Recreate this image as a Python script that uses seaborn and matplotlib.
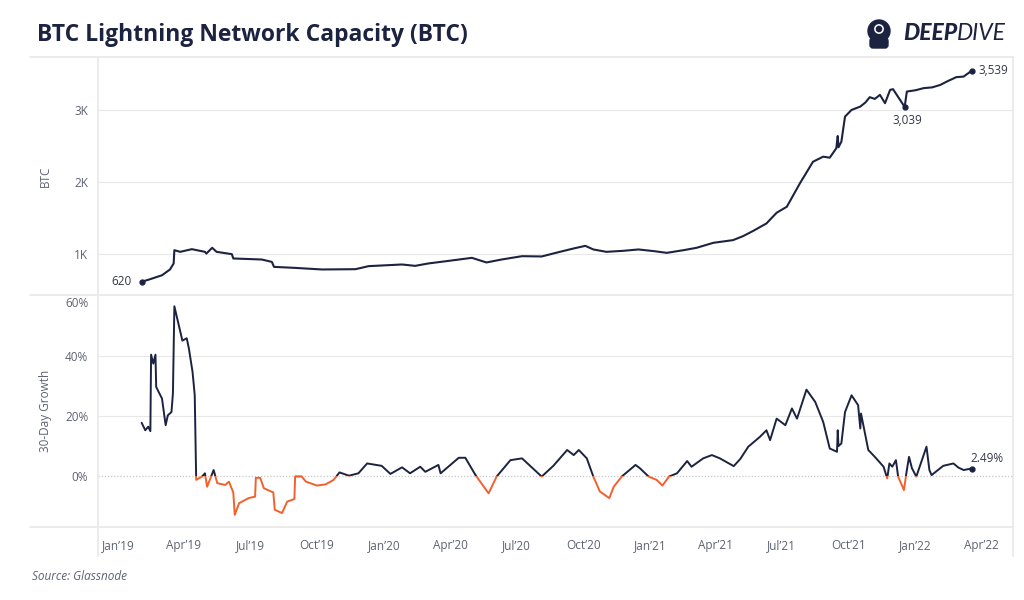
import matplotlib
matplotlib.use("Agg")
import matplotlib.pyplot as plt
import matplotlib.dates as mdates
from matplotlib.patches import Rectangle, Circle, FancyBboxPatch
from matplotlib.lines import Line2D
import pandas as pd
import seaborn as sns

# --- data ------------------------------------------------------------------
cap_dates = [
    "2019-02-02", "2019-02-12", "2019-03-02", "2019-03-13", "2019-03-18", "2019-03-19",
    "2019-03-27", "2019-04-12", "2019-04-30", "2019-05-02", "2019-05-10", "2019-05-16",
    "2019-06-06", "2019-06-08", "2019-07-17", "2019-07-31", "2019-08-03", "2019-09-01",
    "2019-10-08", "2019-11-23", "2019-12-11", "2020-01-26", "2020-02-13", "2020-03-02",
    "2020-03-30", "2020-05-01", "2020-05-21", "2020-06-11", "2020-07-09", "2020-08-05",
    "2020-08-30", "2020-09-18", "2020-10-04", "2020-10-15", "2020-11-02", "2020-11-25",
    "2020-12-16", "2021-01-06", "2021-01-24", "2021-02-16", "2021-03-06", "2021-03-29",
    "2021-04-25", "2021-05-09", "2021-05-23", "2021-06-10", "2021-06-24", "2021-07-08",
    "2021-07-26", "2021-08-13", "2021-08-27", "2021-09-05", "2021-09-14", "2021-09-16",
    "2021-09-17", "2021-09-21", "2021-09-26", "2021-10-05", "2021-10-17", "2021-10-24",
    "2021-10-30", "2021-11-06", "2021-11-13", "2021-11-20", "2021-11-27", "2021-12-01",
    "2021-12-17", "2021-12-20", "2022-01-01", "2022-01-12", "2022-01-24", "2022-02-04",
    "2022-02-15", "2022-02-26", "2022-03-08", "2022-03-19",
]
cap_btc = [
    620, 650, 710, 790, 873, 1057,
    1034, 1071, 1034, 1010, 1090, 1034,
    1002, 942, 928, 895, 826, 812,
    790, 794, 836, 859, 840, 873,
    909, 951, 887, 928, 974, 970,
    1034, 1081, 1117, 1067, 1034, 1048,
    1067, 1044, 1020, 1057, 1090, 1159,
    1196, 1252, 1325, 1427, 1575, 1658,
    1982, 2281, 2351, 2337, 2467, 2637,
    2480, 2559, 2905, 2998, 3044, 3100,
    3174, 3150, 3206, 3091, 3275, 3285,
    3039, 3252, 3270, 3299, 3310, 3344,
    3400, 3451, 3459, 3539,
]

growth_dates = [
    "2019-02-02", "2019-02-07", "2019-02-11", "2019-02-14", "2019-02-15", "2019-02-18",
    "2019-02-21", "2019-02-22", "2019-03-02", "2019-03-07", "2019-03-10", "2019-03-15",
    "2019-03-17", "2019-03-19", "2019-03-30", "2019-04-05", "2019-04-08", "2019-04-13",
    "2019-04-16", "2019-04-18", "2019-04-26", "2019-04-30", "2019-05-03", "2019-05-12",
    "2019-05-17", "2019-05-28", "2019-06-02", "2019-06-08", "2019-06-10", "2019-06-16",
    "2019-06-29", "2019-07-08", "2019-07-09", "2019-07-15", "2019-07-20", "2019-08-02",
    "2019-08-04", "2019-08-14", "2019-08-21", "2019-08-31", "2019-09-01", "2019-09-10",
    "2019-09-16", "2019-10-01", "2019-10-13", "2019-10-24", "2019-11-01", "2019-11-14",
    "2019-11-27", "2019-12-09", "2019-12-29", "2020-01-10", "2020-01-26", "2020-02-06",
    "2020-02-20", "2020-02-27", "2020-03-16", "2020-03-19", "2020-04-13", "2020-04-22",
    "2020-05-06", "2020-05-24", "2020-06-04", "2020-06-23", "2020-07-09", "2020-08-05",
    "2020-08-21", "2020-09-09", "2020-09-18", "2020-09-25", "2020-10-06", "2020-10-15",
    "2020-10-24", "2020-11-06", "2020-11-12", "2020-11-23", "2020-12-12", "2020-12-18",
    "2020-12-30", "2021-01-10", "2021-01-18", "2021-01-27", "2021-02-07", "2021-02-21",
    "2021-02-27", "2021-03-15", "2021-03-27", "2021-04-07", "2021-04-26", "2021-05-05",
    "2021-05-16", "2021-06-01", "2021-06-10", "2021-06-15", "2021-06-24", "2021-07-06",
    "2021-07-15", "2021-07-22", "2021-08-04", "2021-08-16", "2021-08-27", "2021-09-05",
    "2021-09-15", "2021-09-16", "2021-09-17", "2021-09-21", "2021-09-26", "2021-10-05",
    "2021-10-14", "2021-10-17", "2021-10-18", "2021-10-28", "2021-11-06", "2021-11-18",
    "2021-11-23", "2021-11-26", "2021-11-30", "2021-12-05", "2021-12-08", "2021-12-16",
    "2021-12-20", "2021-12-23", "2021-12-27", "2022-01-02", "2022-01-16", "2022-01-20",
    "2022-01-23", "2022-02-08", "2022-02-22", "2022-03-01", "2022-03-08", "2022-03-19",
]
growth_pct = [
    17.8, 15.3, 16.5, 15.0, 40.6, 37.6,
    40.6, 29.8, 25.9, 17.0, 20.3, 21.4,
    27.6, 56.8, 45.3, 46.1, 42.6, 34.8,
    27.0, -1.3, -0.2, 0.9, -3.6, 2.0,
    -2.4, -3.0, -1.9, -5.5, -13.0, -9.1,
    -7.4, -6.9, -0.6, -0.6, -4.1, -5.5,
    -11.3, -12.4, -8.6, -7.7, -0.2, -0.2,
    -1.9, -3.2, -2.8, -1.3, 1.2, 0.1,
    0.9, 4.2, 3.4, 0.7, 2.9, 0.9,
    3.1, 1.4, 3.7, 0.9, 6.1, 6.1,
    0.3, -5.8, -0.2, 5.3, 5.9, -0.2,
    3.4, 8.7, 7.0, 8.7, 5.9, -0.2,
    -5.2, -7.4, -3.6, -0.2, 3.7, 2.6,
    -0.2, -1.3, -3.2, -0.2, 0.9, 5.0,
    3.1, 5.9, 7.0, 5.9, 3.3, 5.7,
    9.8, 13.1, 15.3, 12.0, 19.2, 17.0,
    22.6, 19.2, 28.9, 24.8, 18.1, 9.2,
    8.1, 15.3, 10.0, 10.9, 21.4, 27.0,
    23.7, 15.9, 20.9, 8.7, 6.4, 3.1,
    -0.8, 4.2, 3.1, 5.3, -0.2, -4.7,
    2.0, 6.4, 2.6, -0.2, 9.8, 2.0,
    0.3, 3.4, 4.2, 2.8, 2.0, 2.49,
]

NAVY = "#1c2340"
ORANGE = "#f2602d"
GRID = "#e8e8e8"
TXT = "#5d6272"

sns.set_theme(style="white")
plt.rcParams["font.family"] = ["Open Sans", "DejaVu Sans"]

cap = pd.DataFrame({"date": pd.to_datetime(cap_dates), "btc": cap_btc})
growth = pd.DataFrame({"date": pd.to_datetime(growth_dates), "pct": growth_pct})

fig = plt.figure(figsize=(10.24, 6), dpi=100)
ax1 = fig.add_axes([0.0957, 0.508, 0.8936, 0.397])
ax2 = fig.add_axes([0.0957, 0.122, 0.8936, 0.385], sharex=ax1)

# top panel: capacity
sns.lineplot(data=cap, x="date", y="btc", ax=ax1, color=NAVY, lw=1.5)
ax1.set_ylim(434, 3730)
ax1.set_yticks([1000, 2000, 3000])
ax1.set_yticklabels(["1K", "2K", "3K"])
ax1.set_ylabel("BTC", fontsize=8.5, color=TXT)
ax1.yaxis.set_label_coords(-0.050, 0.5)
ax1.set_xlabel("")
for v in [1000, 2000, 3000]:
    ax1.axhline(v, color=GRID, lw=0.8, zorder=0)

first, last = cap.iloc[0], cap.iloc[-1]
dip = cap[cap["date"] == "2021-12-17"].iloc[0]
ax1.plot([first["date"], dip["date"], last["date"]], [first["btc"], dip["btc"], last["btc"]],
         ls="none", marker="o", ms=3.5, color=NAVY)
ax1.annotate(f"{first['btc']:,}", (first["date"], first["btc"]), xytext=(-7, 0),
             textcoords="offset points", ha="right", va="center", fontsize=8.5, color="#333845")
ax1.annotate(f"{dip['btc']:,}", (dip["date"], dip["btc"]), xytext=(2, -10),
             textcoords="offset points", ha="center", va="center", fontsize=8.5, color="#333845")
ax1.annotate(f"{last['btc']:,}", (last["date"], last["btc"]), xytext=(5, 0),
             textcoords="offset points", ha="left", va="center", fontsize=8.5, color="#333845")

# bottom panel: 30-day growth, orange below zero
sns.lineplot(data=growth, x="date", y="pct", ax=ax2, color=NAVY, lw=1.4)
pos_line = ax2.lines[-1]
sns.lineplot(data=growth, x="date", y="pct", ax=ax2, color=ORANGE, lw=1.4)
neg_line = ax2.lines[-1]
ax2.set_ylim(-17, 60.3)
ax2.set_yticks([0, 20, 40, 60])
ax2.set_yticklabels(["0%", "20%", "40%", "60%"])
ax2.get_yticklabels()[-1].set_va("top")
ax2.set_ylabel("30-Day Growth", fontsize=8.5, color=TXT)
ax2.yaxis.set_label_coords(-0.050, 0.5)
ax2.set_xlabel("")
for v in [20, 40]:
    ax2.axhline(v, color=GRID, lw=0.8, zorder=0)
ax2.axhline(0, color="#c8c8c8", lw=0.9, ls=(0, (1, 1.5)), zorder=0)

end = growth.iloc[-1]
ax2.plot([end["date"]], [end["pct"]], ls="none", marker="o", ms=3.5, color=NAVY)
ax2.annotate(f"{end['pct']:.2f}%", (end["date"], end["pct"]), xytext=(-1, 7),
             textcoords="offset points", ha="left", va="center", fontsize=8.5, color="#333845")

ax2.set_xlim(pd.Timestamp("2018-12-04"), pd.Timestamp("2022-05-15"))
x0, x1 = ax2.get_xlim()
pos_line.set_clip_path(Rectangle((x0, 0), x1 - x0, 200, transform=ax2.transData))
neg_line.set_clip_path(Rectangle((x0, -200), x1 - x0, 200, transform=ax2.transData))

ax2.xaxis.set_major_locator(mdates.MonthLocator(bymonth=[1, 4, 7, 10]))
ax2.xaxis.set_major_formatter(mdates.DateFormatter("%b\u2019%y"))

for ax in (ax1, ax2):
    for s in ax.spines.values():
        s.set_visible(False)
    ax.tick_params(axis="both", length=0, labelsize=8.5, labelcolor=TXT)
    ax.tick_params(axis="y", pad=7)
    ax.grid(False)
ax1.tick_params(axis="x", labelbottom=False)
ax2.tick_params(axis="x", pad=9)

# frame lines
W, H = 1024, 600
for y in [57, 295.5, 527]:
    fig.add_artist(Line2D([30 / W, 1013 / W], [1 - y / H] * 2, color=GRID, lw=1.2))
fig.add_artist(Line2D([98 / W] * 2, [1 - 57 / H, 1 - 556 / H], color=GRID, lw=1.2))
fig.add_artist(Line2D([1013 / W] * 2, [1 - 57 / H, 1 - 556 / H], color=GRID, lw=1.2))

# header
fig.text(37 / W, 1 - 35 / H, "BTC Lightning Network Capacity (BTC)", fontsize=16.5,
         fontweight="bold", color=NAVY, va="center", ha="left")

logo = fig.add_axes([862 / W, 1 - 50 / H, 34 / W, 36 / H])
logo.set_xlim(0, 34)
logo.set_ylim(0, 36)
logo.set_aspect("equal")
logo.axis("off")
logo.add_patch(Circle((17, 19), 11, color=NAVY))
logo.add_patch(FancyBboxPatch((8, 2), 18, 10, boxstyle="round,pad=0,rounding_size=3", color=NAVY))
logo.add_patch(Circle((17, 21), 4.2, color="white"))
logo.add_patch(Circle((17, 21), 2.6, color=NAVY))

deep = fig.text(903 / W, 1 - 33 / H, "DEEP", fontsize=16.5, fontweight="black", style="italic",
                color=NAVY, va="center", ha="left", family=["Lato", "DejaVu Sans"])
dive = fig.text(0.95, 1 - 33 / H, "DIVE", fontsize=16.5, fontweight="normal", style="italic",
                color=NAVY, va="center", ha="left", family=["Lato", "DejaVu Sans"])
fig.canvas.draw()
bb = deep.get_window_extent().transformed(fig.transFigure.inverted())
dive.set_position((bb.x1, 1 - 33 / H))

fig.text(32 / W, 1 - 577 / H, "Source: Glassnode", fontsize=8.5, style="italic", color=TXT,
         va="center", ha="left")

fig.savefig("out.png", dpi=100, facecolor="white")
